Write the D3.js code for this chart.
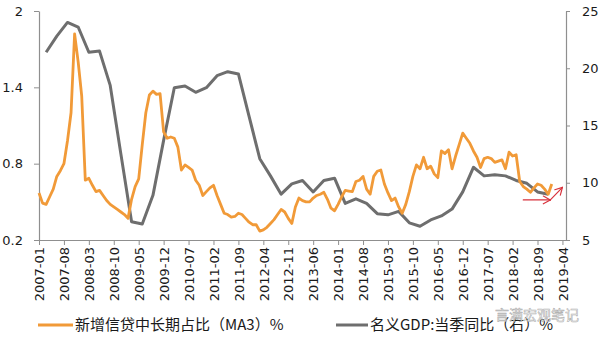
<!DOCTYPE html>
<html>
<head>
<meta charset="utf-8">
<script src="https://cdn.jsdelivr.net/npm/d3@7"></script>
<style>
  html, body { margin: 0; padding: 0; background: #fff; }
  svg { display: block; }
</style>
</head>
<body>
<svg id="chart" width="600" height="342"></svg>
<script>
// ---------------- data ----------------
// Monthly series: share of medium/long-term loans in new credit (MA3), starting 2007-01
const creditStart = "2007-01";
const creditShare = [
  0.57, 0.49, 0.48, 0.54, 0.60, 0.70, 0.745, 0.80, 0.98, 1.20,
  1.82, 1.60, 1.33, 0.67, 0.685, 0.63, 0.58, 0.59, 0.55, 0.51,
  0.48, 0.46, 0.44, 0.42, 0.40, 0.37, 0.52, 0.62, 0.68, 0.95,
  1.20, 1.34, 1.37, 1.345, 1.35, 1.05, 1.00, 1.01, 1.00, 0.93,
  0.75, 0.79, 0.77, 0.75, 0.67, 0.63, 0.55, 0.58, 0.61, 0.63,
  0.55, 0.48, 0.41, 0.40, 0.38, 0.385, 0.41, 0.40, 0.37, 0.34,
  0.32, 0.32, 0.27, 0.28, 0.30, 0.33, 0.36, 0.40, 0.44, 0.42,
  0.37, 0.33, 0.46, 0.53, 0.51, 0.50, 0.50, 0.53, 0.55, 0.56,
  0.575, 0.52, 0.45, 0.43, 0.48, 0.54, 0.59, 0.585, 0.58, 0.66,
  0.67, 0.70, 0.60, 0.56, 0.70, 0.74, 0.75, 0.64, 0.57, 0.51,
  0.53, 0.46, 0.41, 0.48, 0.58, 0.70, 0.79, 0.76, 0.85, 0.76,
  0.78, 0.72, 0.69, 0.90, 0.88, 0.91, 0.76, 0.86, 0.95, 1.04,
  1.00, 0.96, 0.90, 0.85, 0.77, 0.84, 0.85, 0.84, 0.81, 0.82,
  0.83, 0.76, 0.89, 0.86, 0.87, 0.66, 0.62, 0.60, 0.575, 0.61,
  0.64, 0.63, 0.60, 0.56, 0.64
];

// Quarterly series: nominal GDP, YoY (right axis), starting 2007-03, every 3 months
const gdpStart = "2007-03";
const gdpStepMonths = 3;
const gdpYoY = [
  21.4, 22.8, 24.0, 23.6, 21.4, 21.5, 18.5, 12.5, 6.6, 6.4,
  8.9, 13.7, 18.3, 18.45, 17.9, 18.3, 19.35, 19.7, 19.5, 15.8,
  12.1, 10.6, 9.0, 9.9, 10.2, 9.2, 10.2, 10.4, 8.2, 8.6,
  8.2, 7.3, 7.2, 7.5, 6.5, 6.2, 6.75, 7.1, 7.7, 9.2,
  11.35, 10.6, 10.7, 10.6, 10.2, 9.95, 9.2, 9.0
];

const xTickLabels = [
  "2007-01","2007-08","2008-03","2008-10","2009-05","2009-12","2010-07","2011-02",
  "2011-09","2012-04","2012-11","2013-06","2014-01","2014-08","2015-03","2015-10",
  "2016-05","2016-12","2017-07","2018-02","2018-09","2019-04"
];
const xDomainLabels = ["2007-01", "2019-05"];
const leftTickLabels = ["0.2", "0.8", "1.4", "2"];
const rightTickLabels = ["5", "10", "15", "20", "25"];

const legendLabels = ["新增信贷中长期占比（MA3）%", "名义GDP:当季同比（右）%"];
const watermarkText = "言满宏观笔记";

// ---------------- helpers ----------------
const monthIndex = s => {
  const [y, m] = s.split("-").map(Number);
  return (y - 2007) * 12 + (m - 1);
};

// ---------------- layout ----------------
const svg = d3.select("#chart");
const plot = { left: 39, right: 566, top: 11, bottom: 240 };

const x = d3.scaleLinear()
  .domain(xDomainLabels.map(monthIndex))
  .range([plot.left, plot.right]);
const yL = d3.scaleLinear().domain([0.2, 2]).range([plot.bottom, plot.top]);
const yR = d3.scaleLinear().domain([5, 25]).range([plot.bottom, plot.top]);

const axisColor = "#8f8f8f";
const fontAxis = "'DejaVu Sans', sans-serif";

// left axis
const gL = svg.append("g")
  .attr("transform", `translate(${plot.left},0)`)
  .call(d3.axisLeft(yL)
    .tickValues(leftTickLabels.map(Number))
    .tickFormat((d, i) => leftTickLabels[i])
    .tickSize(5).tickSizeOuter(0).tickPadding(11));
// right axis
const gR = svg.append("g")
  .attr("transform", `translate(${plot.right},0)`)
  .call(d3.axisRight(yR)
    .tickValues(rightTickLabels.map(Number))
    .tickFormat((d, i) => rightTickLabels[i])
    .tickSize(4).tickSizeOuter(0).tickPadding(12));
// bottom axis
const gB = svg.append("g")
  .attr("transform", `translate(0,${plot.bottom})`)
  .call(d3.axisBottom(x)
    .tickValues(xTickLabels.map(monthIndex))
    .tickFormat((d, i) => xTickLabels[i])
    .tickSize(5).tickSizeOuter(0));

[gL, gR, gB].forEach(g => {
  g.selectAll("path.domain").attr("stroke", axisColor).attr("stroke-width", 1.2);
  g.selectAll(".tick line").attr("stroke", axisColor).attr("stroke-width", 1);
  g.selectAll("text")
    .attr("font-family", fontAxis)
    .attr("font-size", 13)
    .attr("fill", "#1a1a1a");
});

gB.selectAll(".tick text")
  .attr("text-anchor", "end")
  .attr("transform", "translate(0,7) rotate(-90)")
  .attr("x", 0)
  .attr("y", 0)
  .attr("dy", "0.36em");

// ---------------- lines ----------------
const creditOffset = monthIndex(creditStart);
const gdpOffset = monthIndex(gdpStart);

const creditLine = d3.line()
  .x((d, i) => x(creditOffset + i))
  .y(d => yL(d));
const gdpLine = d3.line()
  .x((d, i) => x(gdpOffset + i * gdpStepMonths))
  .y(d => yR(d));

const orange = "#F19A38";
const gray = "#6e6e6e";

svg.append("path")
  .datum(gdpYoY)
  .attr("fill", "none")
  .attr("stroke", gray)
  .attr("stroke-width", 3)
  .attr("stroke-linejoin", "round")
  .attr("d", gdpLine);

svg.append("path")
  .datum(creditShare)
  .attr("fill", "none")
  .attr("stroke", orange)
  .attr("stroke-width", 2.8)
  .attr("stroke-linejoin", "round")
  .attr("d", creditLine);

// ---------------- hand-drawn red arrows (annotation) ----------------
const red = "#d8323c";
const arrows = [
  { from: [136, 8.5], to: [143.6, 8.5] },
  { from: [143.6, 8.5], to: [147, 9.6] }
];
const arrowG = svg.append("g").attr("stroke", red).attr("stroke-width", 1.2)
  .attr("fill", "none").attr("stroke-linecap", "round");
arrows.forEach(a => {
  const x1 = x(a.from[0]), y1 = yR(a.from[1]);
  const x2 = x(a.to[0]), y2 = yR(a.to[1]);
  arrowG.append("line").attr("x1", x1).attr("y1", y1).attr("x2", x2).attr("y2", y2);
  const ang = Math.atan2(y2 - y1, x2 - x1);
  const L = 8, spread = 0.5;
  [ang + Math.PI - spread, ang + Math.PI + spread].forEach(t => {
    arrowG.append("line")
      .attr("x1", x2).attr("y1", y2)
      .attr("x2", x2 + L * Math.cos(t)).attr("y2", y2 + L * Math.sin(t));
  });
});

// ---------------- legend ----------------
const legendY = 325;
const fontCJK = "'Noto Sans CJK SC', 'Noto Sans', sans-serif";
const legendItems = [
  { label: legendLabels[0], color: orange, x0: 38, x1: 73 },
  { label: legendLabels[1], color: gray, x0: 336, x1: 368 }
];
legendItems.forEach(it => {
  svg.append("line")
    .attr("x1", it.x0).attr("x2", it.x1)
    .attr("y1", legendY).attr("y2", legendY)
    .attr("stroke", it.color).attr("stroke-width", 3);
  svg.append("text")
    .attr("x", it.x1 + 2).attr("y", legendY)
    .attr("dy", "0.36em")
    .attr("font-family", fontCJK)
    .attr("font-size", 15)
    .attr("fill", "#1a1a1a")
    .text(it.label);
});

// ---------------- watermark ----------------
svg.append("text")
  .attr("x", 495).attr("y", 315)
  .attr("dy", "0.36em")
  .attr("font-family", fontCJK)
  .attr("font-size", 14)
  .attr("fill", "#ffffff")
  .attr("fill-opacity", 0.75)
  .attr("stroke", "#9a9a9a")
  .attr("stroke-width", 0.6)
  .attr("stroke-opacity", 0.8)
  .text(watermarkText);
</script>
</body>
</html>
